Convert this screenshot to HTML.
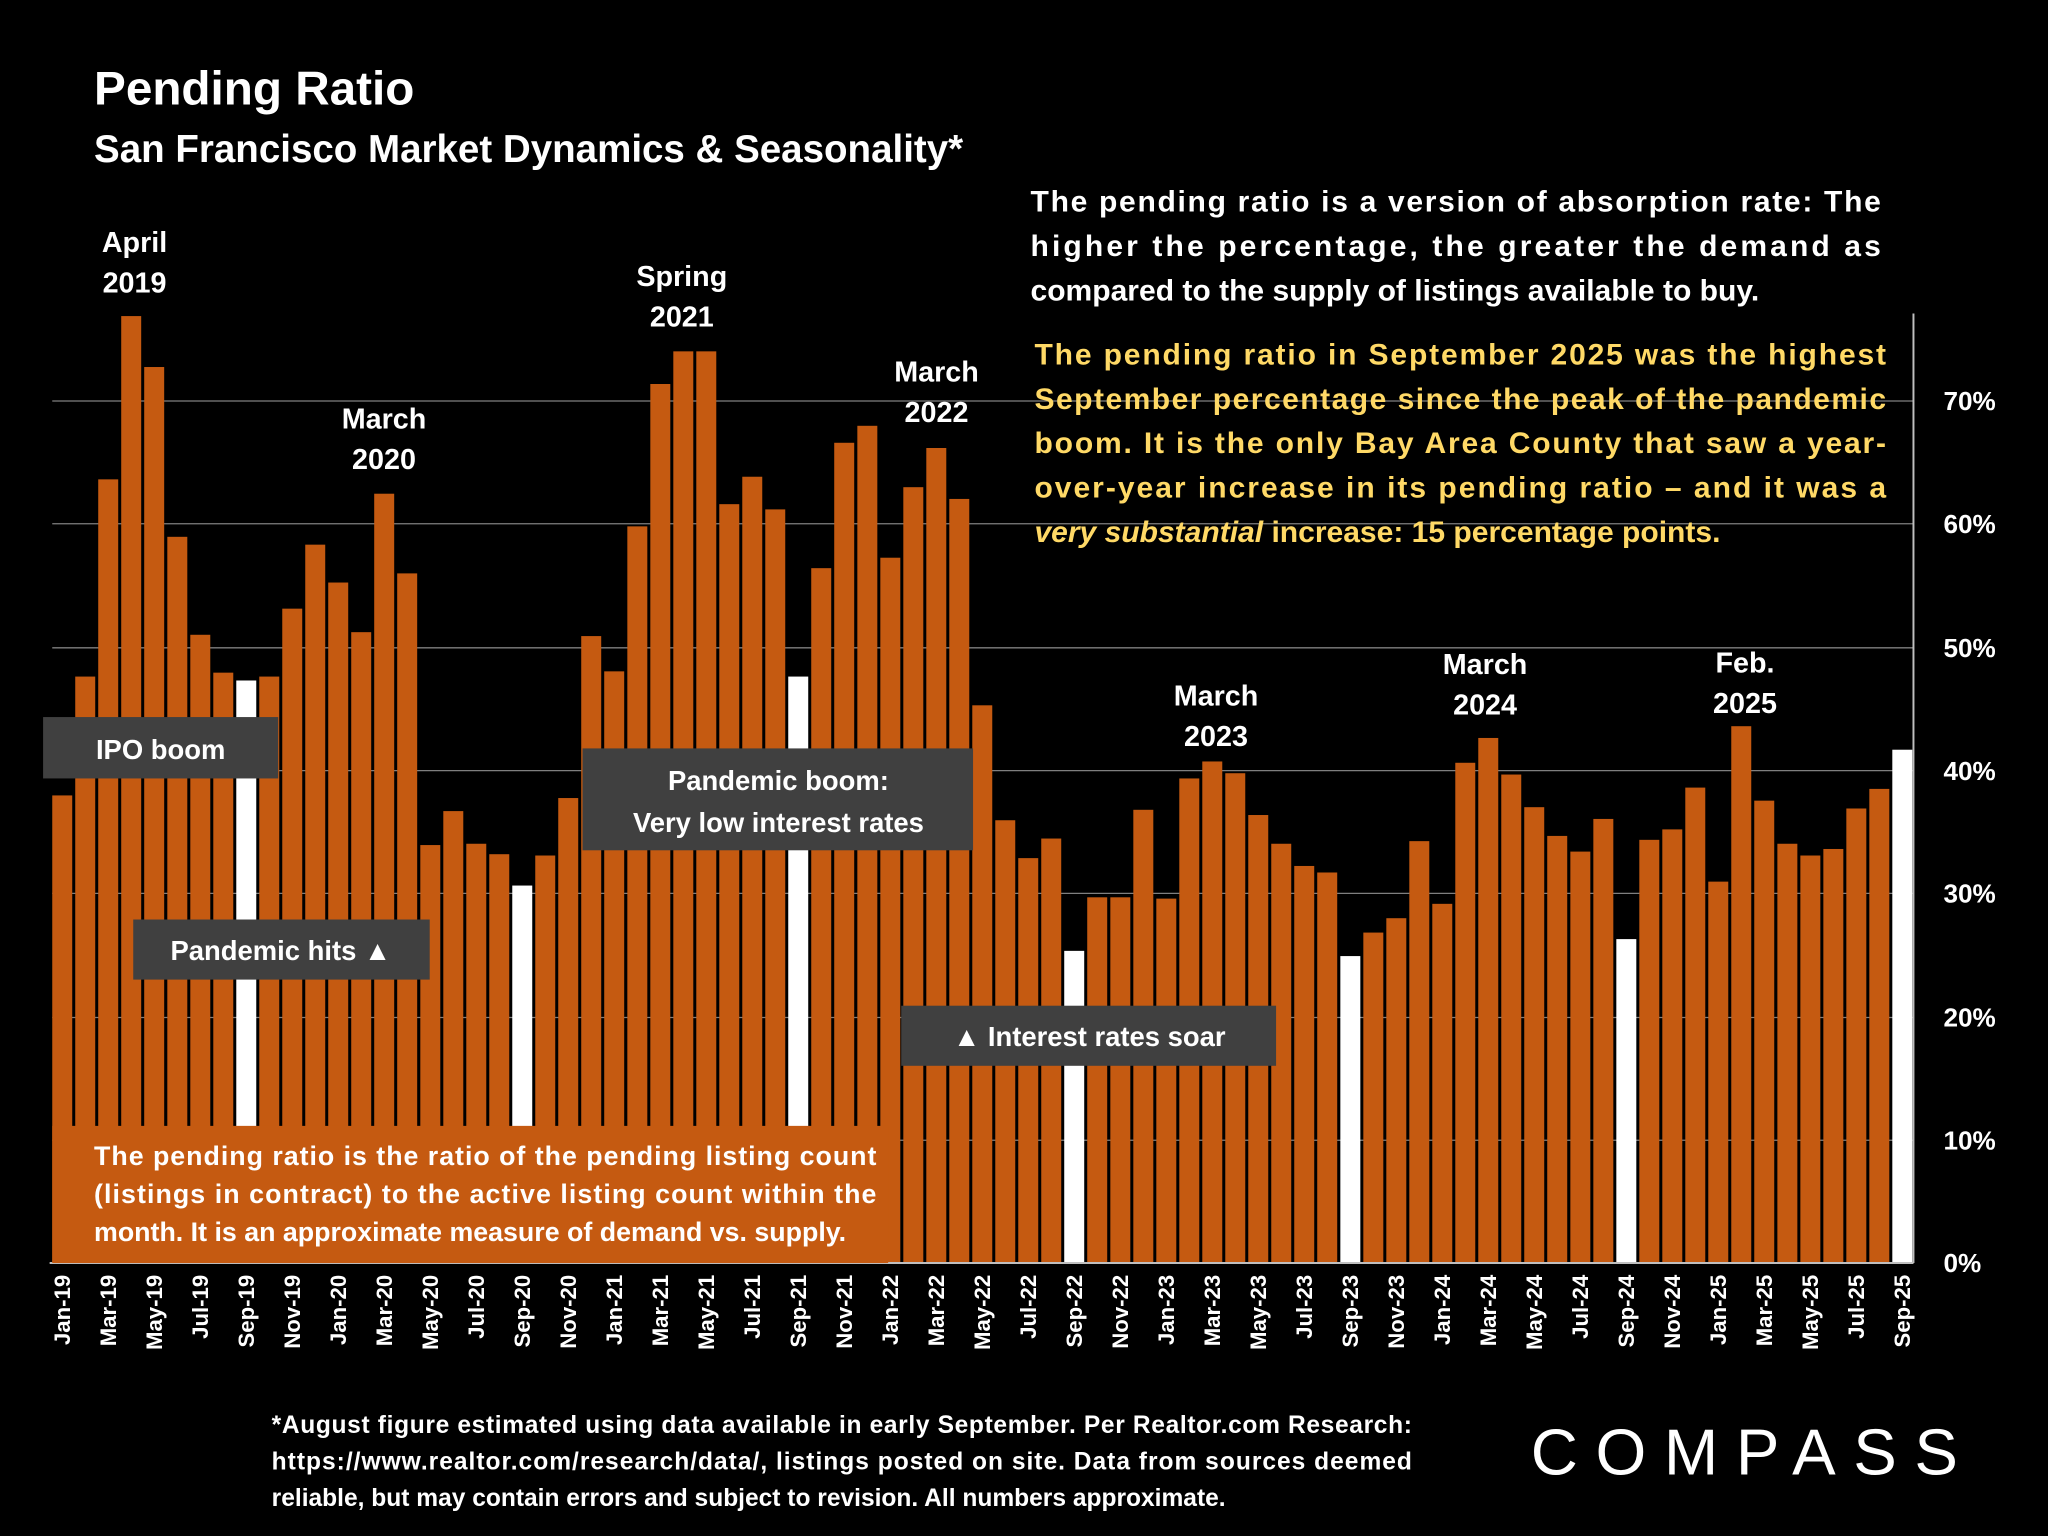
<!DOCTYPE html>
<html><head><meta charset="utf-8"><style>
html,body{margin:0;padding:0;background:#000;}
svg{display:block;}
text{font-family:"Liberation Sans","DejaVu Sans",sans-serif;font-weight:bold;fill:#fff;}
</style></head><body>
<svg width="2048" height="1536" viewBox="0 0 1568 1176" xmlns="http://www.w3.org/2000/svg">
<rect width="1568" height="1176" fill="#000"/>
<text x="72" y="80" font-size="36.5">Pending Ratio</text>
<text x="72" y="124" font-size="29.5">San Francisco Market Dynamics &amp; Seasonality*</text>
<g stroke="#7f7f7f" stroke-width="1">
<line x1="40" y1="307" x2="1465" y2="307"/><line x1="40" y1="401" x2="1465" y2="401"/>
<line x1="40" y1="496" x2="1465" y2="496"/><line x1="40" y1="590" x2="1465" y2="590"/>
<line x1="40" y1="684" x2="1465" y2="684"/><line x1="40" y1="779" x2="1465" y2="779"/>
<line x1="40" y1="873" x2="1465" y2="873"/>
</g>
<line x1="1465" y1="240" x2="1465" y2="967" stroke="#bfbfbf" stroke-width="1.5"/>
<g font-size="20">
<text x="1488" y="314">70%</text><text x="1488" y="408">60%</text><text x="1488" y="503">50%</text>
<text x="1488" y="597">40%</text><text x="1488" y="691">30%</text><text x="1488" y="786">20%</text>
<text x="1488" y="880">10%</text><text x="1488" y="974">0%</text>
</g>
<g id="bars"></g>
<line x1="38" y1="967" x2="1465" y2="967" stroke="#bfbfbf" stroke-width="1.5"/>
<g id="labels" font-size="17"></g>
<g font-size="22" text-anchor="middle">
<text x="103" y="193">April</text><text x="103" y="224">2019</text>
<text x="294" y="328">March</text><text x="294" y="359">2020</text>
<text x="522" y="219">Spring</text><text x="522" y="250">2021</text>
<text x="717" y="292">March</text><text x="717" y="323">2022</text>
<text x="931" y="540">March</text><text x="931" y="571">2023</text>
<text x="1137" y="516">March</text><text x="1137" y="547">2024</text>
<text x="1336" y="515">Feb.</text><text x="1336" y="546">2025</text>
</g>
<g fill="#404040">
<rect x="33" y="549" width="180" height="47"/>
<rect x="102" y="704" width="227" height="46"/>
<rect x="446" y="573" width="299" height="78"/>
<rect x="690" y="770" width="287" height="46"/>
</g>
<g font-size="21" text-anchor="middle">
<text x="123" y="581">IPO boom</text>
<text x="215" y="735">Pandemic hits ▲</text>
<text x="596" y="605">Pandemic boom:</text>
<text x="596" y="637">Very low interest rates</text>
<text x="834" y="801">▲ Interest rates soar</text>
</g>
<rect x="40" y="862" width="640" height="105" fill="#c55a11"/>
<g font-size="20.5">
<text x="72" y="892" textLength="599" lengthAdjust="spacing">The pending ratio is the ratio of the pending listing count</text>
<text x="72" y="921" textLength="599" lengthAdjust="spacing">(listings in contract) to the active listing count within the</text>
<text x="72" y="950">month. It is an approximate measure of demand vs. supply.</text>
</g>
<g font-size="23">
<text x="789" y="162" textLength="651" lengthAdjust="spacing">The pending ratio is a version of absorption rate:  The</text>
<text x="789" y="196" textLength="651" lengthAdjust="spacing">higher the percentage, the greater the demand as</text>
<text x="789" y="230">compared to the supply of listings available to buy.</text>
</g>
<g font-size="23" style="fill:#ffd966">
<text x="792" y="279" textLength="652" lengthAdjust="spacing" style="fill:#ffd966">The pending ratio in September 2025 was the highest</text>
<text x="792" y="313" textLength="652" lengthAdjust="spacing" style="fill:#ffd966">September percentage since the peak of the pandemic</text>
<text x="792" y="347" textLength="652" lengthAdjust="spacing" style="fill:#ffd966">boom. It is the only Bay Area County that saw a year-</text>
<text x="792" y="381" textLength="652" lengthAdjust="spacing" style="fill:#ffd966">over-year increase in its pending ratio – and it was a</text>
<text x="792" y="415" style="fill:#ffd966"><tspan font-style="italic" style="fill:#ffd966">very substantial</tspan> increase:  15 percentage points.</text>
</g>
<g font-size="18.8">
<text x="208" y="1097" textLength="873" lengthAdjust="spacing">*August figure estimated using data available in early September. Per Realtor.com Research:</text>
<text x="208" y="1125" textLength="873" lengthAdjust="spacing">https://www.realtor.com/research/data/, listings posted on site. Data from sources deemed</text>
<text x="208" y="1153">reliable, but may contain errors and subject to revision. All numbers approximate.</text>
</g>
<text x="1172" y="1129" font-size="50" style="font-weight:normal" letter-spacing="6" textLength="333" lengthAdjust="spacing">COMPASS</text>
</svg>
<script>
var tops=[609,518,367,242,281,411,486,515,521,518,466,417,446,484,378,439,647,621,646,654,678,655,611,487,514,403,294,269,269,386,365,390,518,435,339,326,427,373,343,382,540,628,657,642,728,687,687,620,688,596,583,592,624,646,663,668,732,714,703,644,692,584,565,593,618,640,652,627,719,643,635,603,675,556,613,646,655,650,619,604,574];
var mon=["Jan","Feb","Mar","Apr","May","Jun","Jul","Aug","Sep","Oct","Nov","Dec"];
var ns="http://www.w3.org/2000/svg",b=document.getElementById("bars"),l=document.getElementById("labels");
for(var i=0;i<81;i++){var x=40+i*17.61;var r=document.createElementNS(ns,"rect");
r.setAttribute("x",x.toFixed(1));r.setAttribute("y",tops[i]);r.setAttribute("width","15.3");r.setAttribute("height",967-tops[i]);
r.setAttribute("fill",(i%12==8)?"#ffffff":"#c55a11");b.appendChild(r);
if(i%2==0){var t=document.createElementNS(ns,"text");var cx=x+7.6;
t.setAttribute("transform","translate("+cx.toFixed(1)+",976) rotate(-90)");t.setAttribute("text-anchor","end");t.setAttribute("dy","6");
t.textContent=mon[i%12]+"-"+(19+Math.floor(i/12));l.appendChild(t);}}
</script>
</body></html>
